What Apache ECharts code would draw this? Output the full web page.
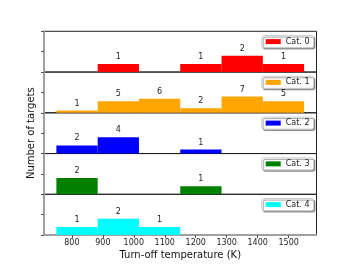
<!DOCTYPE html>
<html>
<head>
<meta charset="utf-8">
<script src="https://cdn.jsdelivr.net/npm/echarts@6/dist/echarts.min.js"></script>
<style>html,body{margin:0;padding:0;background:#fff;}#c{width:352px;height:264px;}</style>
</head>
<body>
<div id="c"></div>
<script>
const binEdges = [750, 883.33, 1016.67, 1150, 1283.33, 1416.67, 1550];
const categories = ['Cat. 0', 'Cat. 1', 'Cat. 2', 'Cat. 3', 'Cat. 4'];
const counts0 = [0, 1, 0, 1, 2, 1];
const counts1 = [1, 5, 6, 2, 7, 5];
const counts2 = [2, 4, 0, 1, 0, 0];
const counts3 = [2, 0, 0, 1, 0, 0];
const counts4 = [1, 2, 1, 0, 0, 0];
const xTicks = [800, 900, 1000, 1100, 1200, 1300, 1400, 1500];
const colors = ['#ff0000', '#ffa500', '#0000ff', '#008000', '#00ffff'];

const allCounts = [counts0, counts1, counts2, counts3, counts4];
const FONT = 'DejaVu Sans';
const gridTop0 = 31.3, gridH = 40.75, gridLeft = 44, gridRight = 35.5;

const grids = [], xAxes = [], yAxes = [], series = [], legends = [];
allCounts.forEach((counts, i) => {
  const top = gridTop0 + i * gridH;
  const last = i === allCounts.length - 1;
  const mx = Math.max(...counts);
  grids.push({left: gridLeft, right: gridRight, top: top, height: gridH, show: true,
    borderColor: '#222', borderWidth: 1, backgroundColor: 'transparent'});
  xAxes.push({type: 'value', gridIndex: i, min: 710, max: 1590,
    axisLine: {show: last, onZero: false, lineStyle: {color: '#a0a0a0', width: 2}},
    axisTick: {show: last, length: 3, customValues: xTicks, lineStyle: {color: '#555'}},
    axisLabel: {show: last, customValues: xTicks, fontSize: 8, color: '#222', fontFamily: FONT, margin: 4,
      formatter: function (v) { return String(v); }},
    splitLine: {show: false},
    name: last ? 'Turn-off temperature (K)' : '', nameLocation: 'middle', nameGap: 15,
    nameTextStyle: {fontSize: 10, color: '#111', fontFamily: FONT}});
  yAxes.push({type: 'value', gridIndex: i, min: 0, max: mx * 2.5, interval: mx * 1.25,
    axisLine: {show: true, lineStyle: {color: '#a0a0a0', width: 2}},
    axisTick: {show: true, length: 3, lineStyle: {color: '#555'}},
    axisLabel: {show: false}, splitLine: {show: false},
    name: i === 2 ? 'Number of targets' : '', nameLocation: 'middle', nameGap: 8,
    nameTextStyle: {fontSize: 10, color: '#111', fontFamily: FONT}});
  const data = [];
  counts.forEach((c, b) => { if (c > 0) data.push([binEdges[b], binEdges[b + 1], c]); });
  const color = colors[i];
  series.push({type: 'custom', name: categories[i], xAxisIndex: i, yAxisIndex: i,
    itemStyle: {color: color}, data: data, clip: false,
    renderItem: function (params, api) {
      const p0 = api.coord([api.value(0), api.value(2)]);
      const p1 = api.coord([api.value(1), 0]);
      return {type: 'group', children: [
        {type: 'rect', shape: {x: p0[0], y: p0[1], width: p1[0] - p0[0], height: p1[1] - p0[1]},
          style: {fill: color}},
        {type: 'text', style: {text: String(api.value(2)), x: (p0[0] + p1[0]) / 2, y: p0[1] - 3,
          textAlign: 'center', textVerticalAlign: 'bottom', fontSize: 8, fill: '#222', fontFamily: FONT}}
      ]};
    }});
  legends.push({data: [categories[i]], top: top + 4.3, right: 38.5, orient: 'horizontal',
    icon: 'rect', itemWidth: 15, itemHeight: 5, padding: [2, 4, 2, 4],
    backgroundColor: '#fff', borderColor: '#ccc', borderWidth: 1, borderRadius: 2,
    shadowColor: 'rgba(0,0,0,0.35)', shadowOffsetX: 1.5, shadowOffsetY: 1.5, shadowBlur: 0,
    textStyle: {fontSize: 8, color: '#222', fontFamily: FONT}, selectedMode: false});
});

const chart = echarts.init(document.getElementById('c'), null, {renderer: 'canvas'});
chart.setOption({animation: false, grid: grids, xAxis: xAxes, yAxis: yAxes, series: series, legend: legends});
</script>
</body>
</html>
